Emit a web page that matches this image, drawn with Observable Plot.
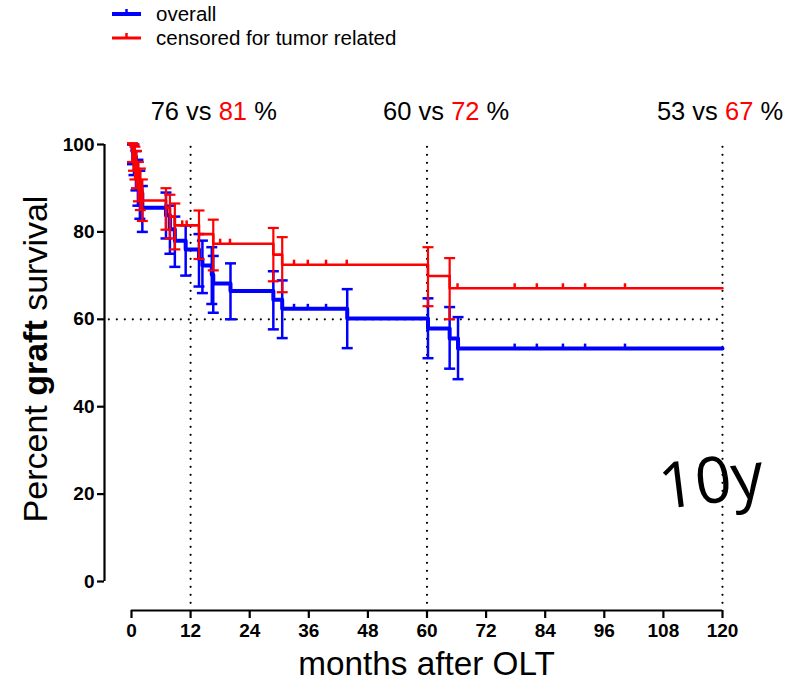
<!DOCTYPE html>
<html><head><meta charset="utf-8">
<script src="https://cdn.jsdelivr.net/npm/d3@7"></script>
<script src="https://cdn.jsdelivr.net/npm/@observablehq/plot@0.6"></script>
<style>
body{margin:0;background:#fff;font-family:"Liberation Sans",Arial,sans-serif;}
#wrap{position:relative;width:787px;height:683px;overflow:hidden;}
#legend{position:absolute;left:0;top:0;}
#chart{position:absolute;left:0;top:0;}
</style></head><body>
<div id="wrap"><div id="chart"></div><div id="legend"></div></div>
<script>
// ---- data ----
const overallTime = [0, 0.2, 0.5, 0.9, 1.3, 1.7, 2.2, 7.0, 7.8, 8.8, 11.0, 13.7, 14.4, 16.3, 16.6, 20.1, 28.8, 30.6, 43.8, 60.2, 64.6, 66.3];
const overallSurv = [100, 98.6, 97.2, 94.4, 91.7, 88.9, 85.5, 83.8, 80.6, 78.0, 76.0, 73.8, 72.3, 70.2, 68.2, 66.5, 64.5, 62.4, 60.2, 57.9, 55.6, 53.3];
const overallLow  = [null, 95.5, 93, 89.5, 86, 83, 80, 78.5, 75, 72, 70, 67.5, 66, 63.5, 61.5, 60, 57.7, 55.7, 53.4, 51.1, 48.7, 46.3];
const overallHigh = [null, 100, 100, 98.5, 96.5, 94, 90.5, 89, 86, 83.5, 81.5, 79.5, 78, 76.5, 74.5, 72.8, 71, 68.9, 66.9, 64.8, 62.8, 60.5];
const overallCensor = [33, 35.8, 39.5, 77.8, 82.3, 87.6, 92.1, 100.2];

const tumorTime = [0, 0.2, 0.4, 0.7, 1.0, 1.4, 1.8, 2.2, 7.0, 7.8, 8.8, 13.7, 16.6, 28.8, 30.6, 60.2, 64.6];
const tumorSurv = [100, 98.6, 97.2, 95.8, 94.3, 91.5, 89.5, 87.2, 85.5, 83.5, 81.5, 79.5, 77.3, 74.8, 72.5, 69.9, 67.1];
const tumorLow  = [null, 96, 94, 92, 90, 87, 85, 82.5, 80.5, 78.5, 76, 73.8, 71.2, 68.7, 66.2, 63, 60];
const tumorHigh = [null, 100.3, 100, 99.5, 98.5, 96, 94.5, 92, 90, 88.5, 86.5, 84.9, 82.8, 80.9, 78.8, 76.5, 74];
const tumorCensor = [10.3, 11.2, 18, 20, 33, 35.8, 39.5, 43.7, 66.2, 77.8, 82.3, 87.6, 92.1, 100.2];

const endTime = 120;
const xTicks = [0, 12, 24, 36, 48, 60, 72, 84, 96, 108, 120];
const yTicks = [0, 20, 40, 60, 80, 100];
const refX = [12, 60, 120];
const refY = [60];
const annX = [16.8, 64, 119.6];
const annOverall = ["76", "60", "53"];
const annTumor = ["81", "72", "67"];
const seriesNames = ["overall", "censored for tumor related"];
const seriesColors = ["#0000ff", "#ff0000"];

// ---- build tables ----
function rows(time, surv, lo, hi) {
  return time.map((t, i) => ({t, s: surv[i], lo: lo[i], hi: hi[i]}));
}
function stepAt(time, surv, t) { return surv[d3.bisectRight(time, t) - 1]; }
const oRows = rows(overallTime, overallSurv, overallLow, overallHigh);
const tRows = rows(tumorTime, tumorSurv, tumorLow, tumorHigh);
const oLine = [...oRows, {t: endTime, s: overallSurv[overallSurv.length - 1]}];
const tLine = [...tRows, {t: endTime, s: tumorSurv[tumorSurv.length - 1]}];
const oErr = oRows.filter(d => d.lo != null);
const tErr = tRows.filter(d => d.lo != null);
const oCens = overallCensor.map(t => ({t, s: stepAt(overallTime, overallSurv, t)}));
const tCens = tumorCensor.map(t => ({t, s: stepAt(tumorTime, tumorSurv, t)}));

const capSymbol = {draw(ctx, size){ const h = Math.sqrt(size / Math.PI); ctx.moveTo(-h, 0); ctx.lineTo(h, 0); }};
const censorSymbol = {draw(ctx, size){ const h = Math.sqrt(size / Math.PI); ctx.moveTo(0, 0); ctx.lineTo(0, -h); }};

function seriesMarks(line, err, cens, color, lw, ew) {
  return [
    Plot.ruleX(err, {x: "t", y1: "lo", y2: "hi", stroke: color, strokeWidth: ew}),
    Plot.dot(err, {x: "t", y: "lo", symbol: capSymbol, r: 5.5, stroke: color, strokeWidth: ew, fill: "none"}),
    Plot.dot(err, {x: "t", y: "hi", symbol: capSymbol, r: 5.5, stroke: color, strokeWidth: ew, fill: "none"}),
    Plot.line(line, {x: "t", y: "s", curve: "step-after", stroke: color, strokeWidth: lw}),
    Plot.dot(cens, {x: "t", y: "s", symbol: censorSymbol, r: 5, stroke: color, strokeWidth: 2.5, fill: "none"})
  ];
}

const dotted = {stroke: "black", strokeWidth: 2.2, strokeDasharray: "0 8", strokeLinecap: "round"};

const plot = Plot.plot({
  width: 787, height: 683,
  marginLeft: 131, marginRight: 65, marginTop: 144, marginBottom: 102,
  x: {domain: [0, 120]},
  y: {domain: [0, 100]},
  style: {fontFamily: "'Liberation Sans', Arial, sans-serif", background: "white", overflow: "visible", color: "black"},
  marks: [
    Plot.ruleX(refX, {y1: -5, y2: 101, ...dotted}),
    Plot.ruleY(refY, {x1: -4.5, x2: 120, ...dotted}),
    Plot.ruleX([0], {y1: 0, y2: 100, dx: -27, stroke: "black", strokeWidth: 2.2}),
    Plot.ruleY([0], {x1: 0, x2: 120, dy: 29, stroke: "black", strokeWidth: 2.2}),
    Plot.axisY({ticks: yTicks, tickSize: 7, dx: -27, tickPadding: 3, fontSize: 19, fontWeight: "bold", label: null, strokeWidth: 2.2}),
    Plot.axisX({ticks: xTicks, tickSize: 8, dy: 29, tickPadding: 5, fontSize: 19, fontWeight: "bold", label: null, strokeWidth: 2.2}),
    ...seriesMarks(oLine, oErr, oCens, seriesColors[0], 4, 2.5),
    ...seriesMarks(tLine, tErr, tCens, seriesColors[1], 2.6, 2.2),
    Plot.text(["10y"], {x: [118.2], y: [18], text: d => d, textAnchor: "middle", lineAnchor: "bottom", rotate: -7, fontSize: 64, fontFamily: "'Open Sans', sans-serif", fill: "black"})
  ]
});
document.getElementById("chart").appendChild(plot);

// ---- texts with mixed styling ----
const svg = d3.select(plot);
const sx = plot.scale("x"), sy = plot.scale("y");
annX.forEach((xv, i) => {
  const t = svg.append("text")
    .attr("x", sx.apply(xv)).attr("y", sy.apply(105.5))
    .attr("text-anchor", "middle").attr("font-size", 25.5).attr("fill", "black")
    .attr("font-family", "'Liberation Sans', Arial, sans-serif");
  t.append("tspan").text(annOverall[i] + " vs ");
  t.append("tspan").attr("fill", seriesColors[1]).text(annTumor[i]);
  t.append("tspan").text(" %");
});
const yl = svg.append("text")
  .attr("transform", "translate(47,359) rotate(-90)")
  .attr("text-anchor", "middle").attr("font-size", 34).attr("fill", "black")
  .attr("font-family", "'Liberation Sans', Arial, sans-serif");
yl.append("tspan").text("Percent ");
yl.append("tspan").attr("font-weight", "bold").text("graft");
yl.append("tspan").text(" survival");
svg.append("text")
  .attr("x", sx.apply(60)).attr("y", 675)
  .attr("text-anchor", "middle").attr("font-size", 33.3).attr("fill", "black")
  .attr("font-family", "'Liberation Sans', Arial, sans-serif")
  .text("months after OLT");

// ---- legend ----
const lg = d3.select("#legend").append("svg").attr("width", 450).attr("height", 52);
seriesNames.forEach((name, i) => {
  const y = 14 + i * 24;
  lg.append("line").attr("x1", 112).attr("x2", 141).attr("y1", y).attr("y2", y)
    .attr("stroke", seriesColors[i]).attr("stroke-width", i === 0 ? 4 : 3);
  lg.append("line").attr("x1", 126.5).attr("x2", 126.5).attr("y1", y - 5).attr("y2", y)
    .attr("stroke", seriesColors[i]).attr("stroke-width", 2.5);
  lg.append("text").attr("x", 156).attr("y", y).attr("dy", "0.35em")
    .attr("font-size", 20.5).attr("fill", "black")
    .attr("font-family", "'Liberation Sans', Arial, sans-serif").text(name);
});
</script>
</body></html>
